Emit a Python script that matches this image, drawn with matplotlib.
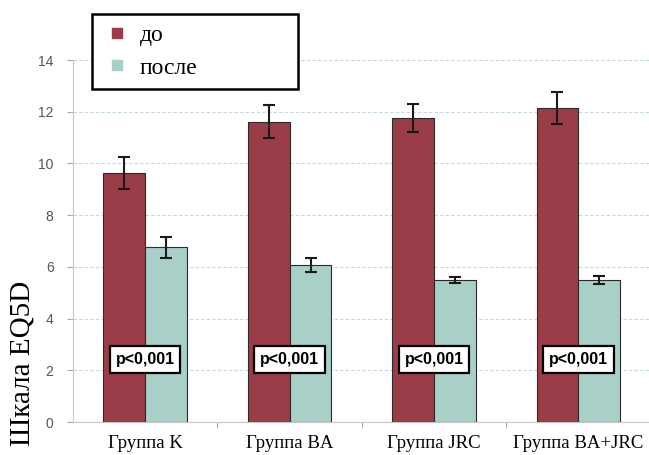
import matplotlib.pyplot as plt
from matplotlib.lines import Line2D
import numpy as np

groups = ["Группа K", "Группа BA", "Группа JRC", "Группа BA+JRC"]
before = [9.63, 11.62, 11.76, 12.15]
before_err = [0.63, 0.63, 0.55, 0.61]
after = [6.75, 6.07, 5.49, 5.49]
after_err = [0.40, 0.28, 0.12, 0.15]
p_labels = ["p<0,001", "p<0,001", "p<0,001", "p<0,001"]
p_y = 2.42

red = "#9b3d48"
teal = "#a8cfc8"

fig = plt.figure(figsize=(6.49, 4.55), dpi=100)
ax = fig.add_axes([0.1125, 0.0725, 0.89, 0.7956])

x = np.arange(len(groups))
w = 0.29
ax.bar(x - w/2, before, w, color=red, edgecolor="#2a2a2a", linewidth=0.8, zorder=3)
ax.bar(x + w/2, after, w, color=teal, edgecolor="#2a2a2a", linewidth=0.8, zorder=3)
ax.errorbar(x - w/2, before, yerr=before_err, fmt="none", ecolor="#1a1a1a",
            elinewidth=1.5, capsize=4, capthick=1.5, zorder=4)
ax.errorbar(x + w/2, after, yerr=after_err, fmt="none", ecolor="#1a1a1a",
            elinewidth=1.5, capsize=4, capthick=1.5, zorder=4)

for xi, lab in zip(x, p_labels):
    ax.text(xi, p_y, lab, ha="center", va="center", fontsize=11.5,
            fontweight="bold", family="Liberation Sans", zorder=6,
            bbox=dict(boxstyle="square,pad=0.35", fc="white", ec="black", lw=1.6))

ax.set_xlim(-0.5, 3.5)
ax.set_ylim(0, 14)
ax.set_yticks(range(0, 15, 2))
ax.yaxis.grid(True, linestyle=(0, (3, 2)), color="#c4d8e0", linewidth=0.8, zorder=0)
ax.set_axisbelow(True)

ax.set_xticks(x)
ax.set_xticklabels(groups, family="Liberation Serif", fontsize=13.5)
ax.set_xticks([0.5, 1.5, 2.5], minor=True)
ax.tick_params(axis="x", which="major", length=0, pad=9)
ax.tick_params(axis="x", which="minor", length=4, color="#999999", direction="out")
ax.tick_params(axis="y", length=4, color="#aaaaaa", labelcolor="#555555",
               labelsize=10, pad=10)
for t in ax.get_yticklabels():
    t.set_family("Liberation Sans")

for s in ["top", "right"]:
    ax.spines[s].set_visible(False)
ax.spines["left"].set_color("#c8c8c8")
ax.spines["bottom"].set_color("#c8c8c8")

fig.text(0.034, 0.202, "Шкала EQ5D", rotation=90, ha="center", va="center",
         family="Liberation Serif", fontsize=21)

# square markers centred in a wider handle box push them right of the frame edge
handles = [Line2D([], [], ls="none", marker="s", markersize=6.5, color=c) for c in (red, teal)]
leg = fig.legend(handles, ["до", "после"], loc="lower left",
                 bbox_to_anchor=(0.142, 0.804, 0.317, 0.161), mode="expand",
                 prop={"family": "Liberation Serif", "size": 17},
                 handlelength=1.23, handletextpad=0.34,
                 labelspacing=0.45, borderpad=0.45, borderaxespad=0,
                 fancybox=False, framealpha=1)
leg.get_frame().set_edgecolor("black")
leg.get_frame().set_linewidth(1.8)

fig.savefig("out.png", dpi=100)
